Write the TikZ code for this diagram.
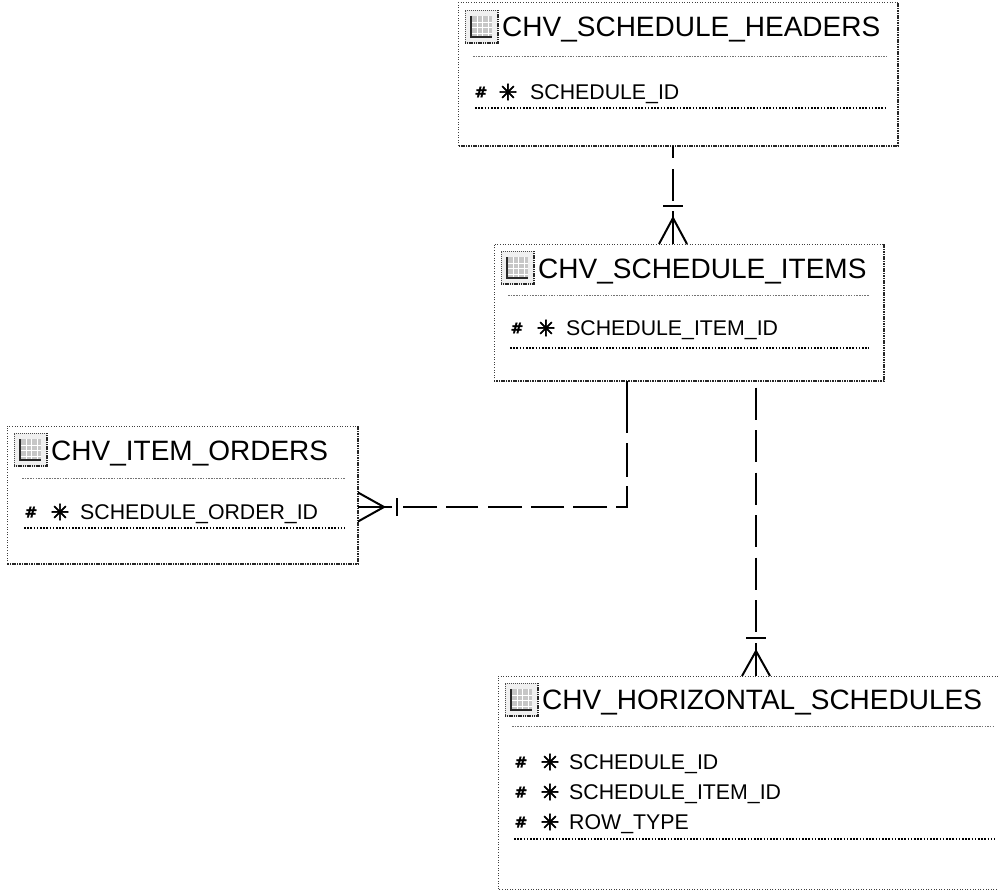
\documentclass[tikz,border=0pt]{standalone}
\usepackage{fontspec}
\setmainfont{Liberation Sans}
\newfontfamily\symfont[FakeBold=2.5]{DejaVu Sans}
\newfontfamily\hashfont[FakeBold=1.5]{DejaVu Sans Bold}
\usetikzlibrary{calc}
\tikzset{
  box/.style={inner sep=0pt, outer sep=0pt, anchor=north west},
  thinb/.style={line width=1pt, black!75, dash pattern=on 1pt off 1.6pt},
  shadowb/.style={line width=2.6pt, black!85, dash pattern=on 1.6pt off 0.8pt},
  sepline/.style={line width=1pt, gray!90!black, dash pattern=on 1.5pt off 1.2pt},
  rowline/.style={line width=1.3pt, black, dash pattern=on 1.6pt off 1.6pt},
  titletext/.style={anchor=base west, inner sep=0pt, font=\fontsize{28}{30}\selectfont},
  attrtext/.style={anchor=base west, inner sep=0pt, font=\fontsize{21.3}{24}\selectfont},
  hashsym/.style={inner sep=0pt, font=\hashfont\fontsize{15}{16}\selectfont},
  keysym/.style={inner sep=0pt, font=\symfont\fontsize{22}{23}\selectfont},
  rel/.style={line width=2pt, black},
  tblicon/.pic={
    \fill[gray!12] (0,0) rectangle (33,34);
    \draw[line width=0.8pt, black!70, dash pattern=on 1pt off 1pt] (0,34) -- (0,0) -- (33,0);
    \fill[gray!45] (6,6) rectangle (27,27);
    \draw[white, line width=0.9pt] (6,12) -- (27,12) (6,17.5) -- (27,17.5) (6,23) -- (27,23)
      (12,6) -- (12,27) (17.5,6) -- (17.5,27) (23,6) -- (23,27);
    \draw[black!85, line width=1.3pt] (6,6) -- (6,27) -- (27,27);
    \draw[line width=2.2pt, black!85, dash pattern=on 1.2pt off 0.6pt] (0,33) -- (33,33) -- (33,0);
  }
}
\begin{document}
\begin{tikzpicture}[x=1pt,y=-1pt]
\useasboundingbox (0,0) rectangle (998,891);
\begin{scope}
\clip (0,0) rectangle (998,891);

% ---------- boxes ----------
\node[box, minimum width=440pt, minimum height=143pt] (H) at (458,3) {};
\node[box, minimum width=390pt, minimum height=137pt] (I) at (494,244) {};
\node[box, minimum width=351pt, minimum height=138pt] (O) at (7,426) {};
\node[box, minimum width=512pt, minimum height=213.5pt] (Z) at (498,676) {};

\foreach \b in {H,I,O}{
  \draw[thinb] (\b.south west) -- (\b.north west) -- (\b.north east);
  \draw[shadowb] (\b.north east) -- (\b.south east) -- (\b.south west);
}
\draw[thinb] (Z.south east) -- (Z.south west) -- (Z.north west) -- (Z.north east);

% ---------- icons ----------
\pic at (465,10) {tblicon};
\pic at (501,251) {tblicon};
\pic at (14,433) {tblicon};
\pic at (505,683) {tblicon};

% ---------- titles ----------
\node[titletext] (Ht) at (502,37) {CHV\_SCHEDULE\_HEADERS};
\node[titletext] (It) at (538,278) {CHV\_SCHEDULE\_ITEMS};
\node[titletext] (Ot) at (51,460) {CHV\_ITEM\_ORDERS};
\node[titletext] (Zt) at (542,709) {CHV\_HORIZONTAL\_SCHEDULES};

% ---------- separators ----------
\draw[sepline] (473,57) -- (887,57);
\draw[sepline] (508,295) -- (869,295);
\draw[sepline] (22,478) -- (345,478);
\draw[sepline] (512,726) -- (995,726);

% ---------- attributes ----------
\node[hashsym] (Hh1) at (481,92) {\#};
\node[keysym] (Hk1) at (508,92) {✳};
\node[attrtext] (Ha1) at (530,99.6) {SCHEDULE\_ID};

\node[hashsym] (Ih1) at (517,328) {\#};
\node[keysym] (Ik1) at (546,328) {✳};
\node[attrtext] (Ia1) at (566,335.6) {SCHEDULE\_ITEM\_ID};

\node[hashsym] (Oh1) at (31,512) {\#};
\node[keysym] (Ok1) at (60,512) {✳};
\node[attrtext] (Oa1) at (80,519.6) {SCHEDULE\_ORDER\_ID};

\node[hashsym] (Zh1) at (521,762) {\#};
\node[keysym] (Zk1) at (550,762) {✳};
\node[attrtext] (Za1) at (569,769.6) {SCHEDULE\_ID};
\node[hashsym] (Zh2) at (521,792) {\#};
\node[keysym] (Zk2) at (550,792) {✳};
\node[attrtext] (Za2) at (569,799.6) {SCHEDULE\_ITEM\_ID};
\node[hashsym] (Zh3) at (521,822) {\#};
\node[keysym] (Zk3) at (550,822) {✳};
\node[attrtext] (Za3) at (569,829.6) {ROW\_TYPE};

% ---------- row end lines ----------
\draw[rowline] (475,108) -- (887,108);
\draw[rowline] (510,348) -- (869,348);
\draw[rowline] (24,528) -- (345,528);
\draw[rowline] (514,839) -- (995,839);

% ---------- relationship H -> I ----------
\coordinate (x1) at (673,0);
\coordinate (b1) at ($(I.north -| x1)+(0,-38)$);
\draw[rel, dash pattern=on 32pt off 11pt, dash phase=20pt] (H.south -| x1) -- (b1);
\draw[rel] ($(b1)+(-10,0)$) -- ($(b1)+(10,0)$);
\draw[rel] ($(b1)+(0,5)$) -- (I.north -| x1);
\draw[rel] ($(I.north -| x1)+(-14,0)$) -- ($(b1)+(0,12)$) -- ($(I.north -| x1)+(14,0)$);

% ---------- relationship I -> Z ----------
\coordinate (x3) at (756,0);
\coordinate (b3) at ($(Z.north -| x3)+(0,-38)$);
\draw[rel, dash pattern=on 32pt off 10.5pt, dash phase=36pt] (I.south -| x3) -- (b3);
\draw[rel] ($(b3)+(-10,0)$) -- ($(b3)+(10,0)$);
\draw[rel] ($(b3)+(0,5)$) -- (Z.north -| x3);
\draw[rel] ($(Z.north -| x3)+(-14,0)$) -- ($(b3)+(0,13)$) -- ($(Z.north -| x3)+(14,0)$);

% ---------- relationship I -> O ----------
\coordinate (x2) at (627,0);
\coordinate (y2) at (0,507);
\coordinate (c2) at (x2 |- y2);
\coordinate (b2) at ($(O.east |- y2)+(39,0)$);
\draw[rel, dash pattern=on 52pt off 10pt on 34pt off 9pt on 32pt off 9pt on 34pt off 9pt on 33pt off 9pt on 34pt off 10pt on 32pt off 9pt on 34pt off 10pt]
  (I.south -| x2) -- (c2) -- (b2);
\draw[rel] ($(b2)+(0,-9)$) -- ($(b2)+(0,9)$);
\draw[rel] ($(b2)+(-5,0)$) -- (O.east |- y2);
\draw[rel] ($(O.east |- y2)+(0,-14.5)$) -- ($(b2)+(-13,0)$) -- ($(O.east |- y2)+(0,14.5)$);
\end{scope}
\end{tikzpicture}
\end{document}
